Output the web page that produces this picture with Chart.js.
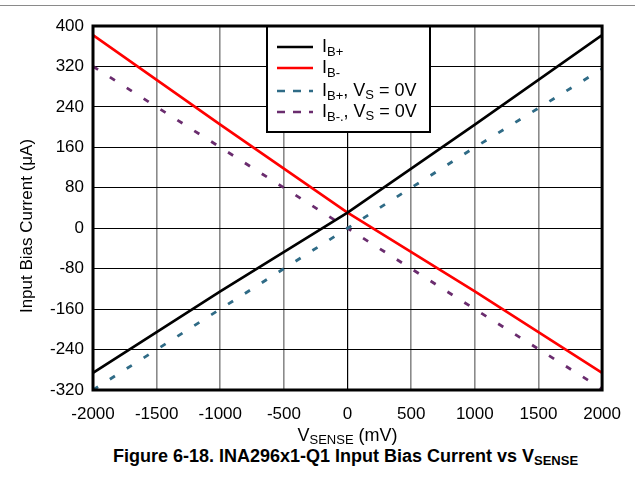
<!DOCTYPE html>
<html>
<head>
<meta charset="utf-8">
<script src="https://cdn.jsdelivr.net/npm/chart.js@4"></script>
<style>
  html, body { margin: 0; padding: 0; background: #fff; width: 635px; height: 483px; overflow: hidden; }
  #topline { position: absolute; left: 0; top: 5px; width: 635px; height: 1px; background: #8a8a8a; }
  #wrap { position: absolute; left: 0; top: 0; width: 635px; height: 445px; }
  #caption { position: absolute; left: 28px; top: 446px; width: 635px; text-align: center; white-space: nowrap;
    font-family: "Liberation Sans", Arial, sans-serif; font-weight: bold; font-size: 18px; color: #000; }
  #caption sub { font-size: 13px; vertical-align: -3px; }
</style>
</head>
<body>
<div id="topline"></div>
<div id="wrap"><canvas id="c" width="635" height="445"></canvas></div>
<div id="caption">Figure 6-18. INA296x1-Q1 Input Bias Current vs V<sub>SENSE</sub></div>
<script>
// ---- data ----
const vsense   = [-2000, -1000, 0, 1000, 2000];          // mV
const ibPlus   = [-286, -125, 31, 205, 382];              // µA
const ibMinus  = [382, 205, 31, -125, -286];
const ibPlus0  = [-320, -160, 0, 160, 315];
const ibMinus0 = [320, 160, 0, -160, -318];

const xTicks = [-2000, -1500, -1000, -500, 0, 500, 1000, 1500, 2000];
const yTicks = [-320, -240, -160, -80, 0, 80, 160, 240, 320, 400];

const seriesMain = ['I', 'I', 'I', 'I'];
const seriesSub  = ['B+', 'B-', 'B+', 'B-.'];
const seriesRest = ['', '', ', V', ', V'];
const seriesSub2 = ['', '', 'S', 'S'];
const seriesTail = ['', '', ' = 0V', ' = 0V'];
const seriesColors = ['#000000', '#ff0000', '#2f6b86', '#6a2c6e'];
const seriesDashed = [false, false, true, true];
// ---------------------------------------

const FONT = '"Liberation Sans", Arial, sans-serif';
const toXY = (ys) => vsense.map((x, i) => ({ x: x, y: ys[i] }));
const allY = [ibPlus, ibMinus, ibPlus0, ibMinus0];

const datasets = allY.map((ys, i) => ({
  label: seriesMain[i] + seriesSub[i] + seriesRest[i] + seriesSub2[i] + seriesTail[i],
  data: toXY(ys),
  borderColor: seriesColors[i],
  backgroundColor: seriesColors[i],
  borderWidth: seriesDashed[i] ? 2.8 : 2.6,
  borderDash: seriesDashed[i] ? [6, 14] : [],
  showLine: true,
  pointRadius: 0,
  tension: 0,
  order: seriesDashed[i] ? 2 : 1
}));

function drawSubText(ctx, x, y, parts, bold) {
  let cx = x;
  parts.forEach(p => {
    if (!p.t) return;
    const size = p.sub ? p.subSize : p.size;
    ctx.font = (bold ? 'bold ' : '') + size + 'px ' + FONT;
    ctx.fillText(p.t, cx, y + (p.sub ? p.off : 0));
    cx += ctx.measureText(p.t).width;
  });
  return cx;
}
function measureSub(ctx, parts, bold) {
  let w = 0;
  parts.forEach(p => {
    if (!p.t) return;
    const size = p.sub ? p.subSize : p.size;
    ctx.font = (bold ? 'bold ' : '') + size + 'px ' + FONT;
    w += ctx.measureText(p.t).width;
  });
  return w;
}

const decor = {
  id: 'decor',
  afterDatasetsDraw(chart) {
    const ctx = chart.ctx;
    ctx.save();
    // legend box
    const lx = 267, ly = 26, lw = 163, lh = 106;
    ctx.fillStyle = '#fff';
    ctx.fillRect(lx, ly, lw, lh);
    ctx.lineWidth = 2;
    ctx.strokeStyle = '#000';
    ctx.strokeRect(lx, ly, lw, lh);
    const rows = [47, 68, 91, 112];
    rows.forEach((ry, i) => {
      ctx.beginPath();
      ctx.strokeStyle = seriesColors[i];
      ctx.lineWidth = 2.5;
      ctx.setLineDash(seriesDashed[i] ? [8, 8] : []);
      ctx.moveTo(277, ry);
      ctx.lineTo(313, ry);
      ctx.stroke();
      ctx.setLineDash([]);
      ctx.fillStyle = '#000';
      ctx.textBaseline = 'middle';
      ctx.textAlign = 'left';
      drawSubText(ctx, 322, ry, [
        { t: seriesMain[i], size: 18 },
        { t: seriesSub[i], sub: true, subSize: 13, off: 5 },
        { t: seriesRest[i], size: 18 },
        { t: seriesSub2[i], sub: true, subSize: 13, off: 4 },
        { t: seriesTail[i], size: 18 }
      ], false);
    });
    ctx.restore();
  },
  afterDraw(chart) {
    const ctx = chart.ctx;
    const a = chart.chartArea;
    ctx.save();
    // plot frame
    ctx.lineWidth = 3;
    ctx.strokeStyle = '#000';
    ctx.strokeRect(a.left, a.top, a.right - a.left, a.bottom - a.top);
    // x axis title
    ctx.fillStyle = '#000';
    ctx.textBaseline = 'middle';
    ctx.textAlign = 'left';
    const xparts = [
      { t: 'V', size: 18 },
      { t: 'SENSE', sub: true, subSize: 13, off: 4 },
      { t: ' (mV)', size: 18 }
    ];
    const w = measureSub(ctx, xparts, false);
    drawSubText(ctx, (a.left + a.right) / 2 - w / 2, 436, xparts, false);
    // y axis title
    ctx.translate(27, 226);
    ctx.rotate(-Math.PI / 2);
    ctx.font = '17px ' + FONT;
    ctx.textAlign = 'center';
    ctx.fillText('Input Bias Current (\u03bcA)', 0, 0);
    ctx.restore();
  }
};

new Chart(document.getElementById('c'), {
  type: 'scatter',
  data: { datasets: datasets },
  options: {
    responsive: false,
    animation: false,
    events: [],
    layout: { padding: { top: 26, right: 32, left: 0, bottom: 0 } },
    plugins: { legend: { display: false }, tooltip: { enabled: false }, title: { display: false } },
    scales: {
      x: {
        type: 'linear',
        min: -2000, max: 2000,
        afterBuildTicks(s) { s.ticks = xTicks.map(v => ({ value: v })); },
        afterFit(s) { s.height = 55; },
        grid: {
          drawTicks: false,
          color: (c) => (c.tick && c.tick.value === 0) ? '#000' : '#8a8a8a',
          lineWidth: (c) => (c.tick && c.tick.value === 0) ? 1.2 : 1.6
        },
        border: { display: false },
        ticks: { color: '#000', padding: 14, font: { family: FONT, size: 17 }, maxRotation: 0, autoSkip: false,
                 callback: (v) => String(v) }
      },
      y: {
        type: 'linear',
        min: -320, max: 400,
        afterBuildTicks(s) { s.ticks = yTicks.map(v => ({ value: v })); },
        afterFit(s) { s.width = 93; },
        grid: { drawTicks: false, color: '#000', lineWidth: 1 },
        border: { display: false },
        ticks: { color: '#000', padding: 9, font: { family: FONT, size: 17 }, autoSkip: false,
                 callback: (v) => String(v) }
      }
    }
  },
  plugins: [decor]
});
</script>
</body>
</html>
